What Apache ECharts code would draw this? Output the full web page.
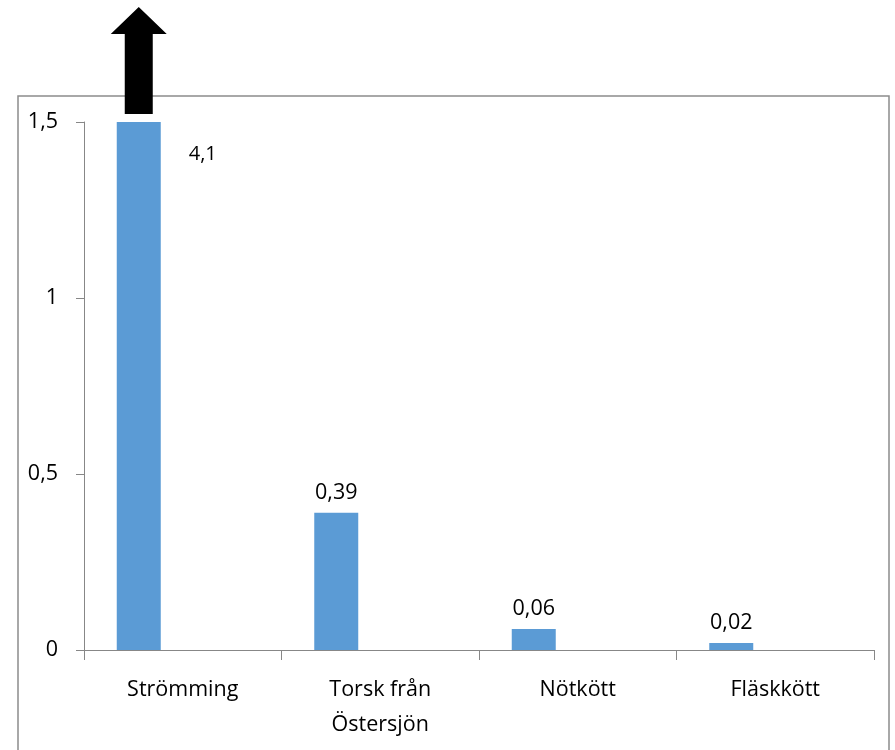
<!DOCTYPE html>
<html><head><meta charset="utf-8">
<script src="https://cdn.jsdelivr.net/npm/echarts@6/dist/echarts.min.js"></script>
<style>html,body{margin:0;padding:0;background:#fff}#c{width:895px;height:750px}</style>
</head><body><div id="c"></div>
<script>
const categories = ['Strömming', 'Torsk från\nÖstersjön', 'Nötkött', 'Fläskkött'];
const values = [4.1, 0.39, 0.06, 0.02];
const yTicks = [0, 0.5, 1, 1.5];
const axisMax = 1.5;

const FONT = "'Open Sans', 'Noto Sans', sans-serif";
const fmt = v => String(v).replace('.', ',');

const chart = echarts.init(document.getElementById('c'), null, {renderer: 'canvas'});
const option = {
  animation: false,
  grid: {left: 84, right: 21, top: 122, bottom: 100, containLabel: false},
  xAxis: {
    type: 'category', data: categories,
    axisLine: {lineStyle: {color: '#878787', width: 1}},
    axisTick: {show: true, length: 10, lineStyle: {color: '#878787'}},
    axisLabel: {color: '#000', fontFamily: FONT, fontSize: 21.5, lineHeight: 35, margin: 22}
  },
  yAxis: {
    type: 'value', min: 0, max: axisMax, interval: 0.5,
    axisLine: {show: true, lineStyle: {color: '#878787'}},
    axisTick: {show: true, length: 8, lineStyle: {color: '#878787'}},
    splitLine: {show: false},
    axisLabel: {color: '#000', fontFamily: FONT, fontSize: 21.5, margin: 26, formatter: v => fmt(v)}
  },
  series: [
    {
      type: 'bar', barWidth: 44, barGap: 0, clip: true,
      itemStyle: {color: '#5b9bd5'},
      data: values.map((v, i) => i === 0 ? {
        value: v,
        label: {show: true, position: [72, 22], formatter: p => fmt(p.value),
          fontFamily: FONT, fontSize: 20, color: '#000'}
      } : v),
      label: {show: true, position: 'top', distance: 9, color: '#000', fontFamily: FONT, fontSize: 21.5,
        formatter: p => fmt(p.value)}
    },
    {type: 'bar', barWidth: 44, data: categories.map(() => null)},
    {type: 'bar', barWidth: 44, data: categories.map(() => null)}
  ]
};
chart.setOption(option);

// Arrow above the clipped first bar, positioned from the axes
const base = chart.convertToPixel({seriesIndex: 0}, [0, axisMax]);
const cx = base[0] - 44; // centre of first bar in its 3-bar group
const shaftBottom = base[1] - 8;
const shaftTop = base[1] - 88;
const headTop = base[1] - 115;
const hw = 14, hh = 28;
chart.setOption({
  graphic: [
    {type: 'rect', shape: {x: 18, y: 96, width: 871, height: 660}, style: {fill: null, stroke: '#8c8c8c', lineWidth: 1.5}, z: 0},
    {type: 'polygon', shape: {points: [
      [cx - hw, shaftBottom], [cx - hw, shaftTop], [cx - hh, shaftTop], [cx, headTop],
      [cx + hh, shaftTop], [cx + hw, shaftTop], [cx + hw, shaftBottom]
    ]}, style: {fill: '#000'}, z: 10}
  ]
});
</script></body></html>
